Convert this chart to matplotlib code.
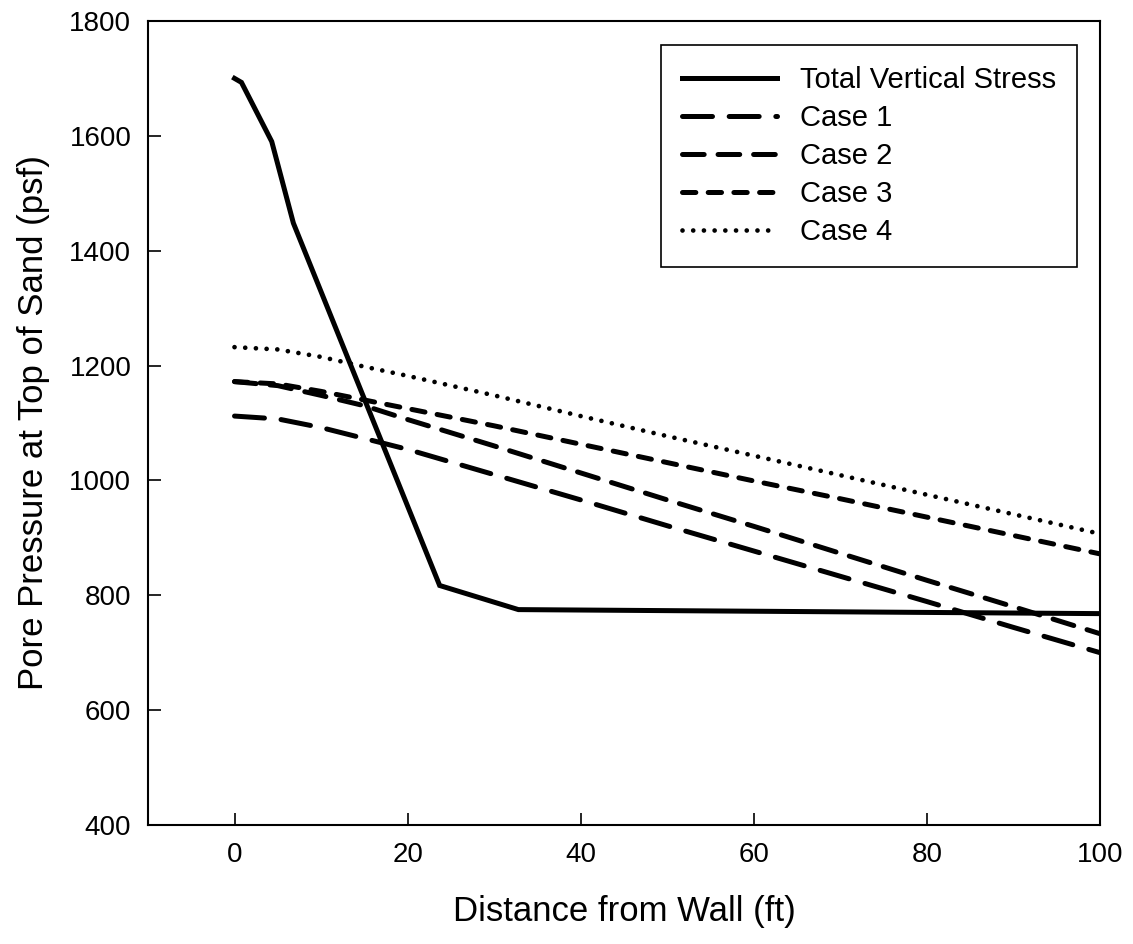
import matplotlib
matplotlib.use("Agg")
import matplotlib.pyplot as plt

plt.rcParams['font.family'] = ['Liberation Sans', 'DejaVu Sans']
plt.rcParams['lines.scale_dashes'] = False

# Data
x_total = [0, 0.8, 4.3, 6.8, 23.7, 32.8, 100]
total_stress = [1700, 1693, 1590, 1448, 817, 775, 768]

x_case = [0, 5, 10, 15, 20, 30, 40, 50, 60, 70, 80, 90, 100]
case1 = [1112, 1107, 1092, 1073, 1054, 1010, 966, 921, 877, 833, 789, 744, 700]
case2 = [1172, 1165, 1148, 1130, 1106, 1060, 1013, 966, 920, 873, 826, 780, 733]
case3 = [1172, 1168, 1155, 1140, 1125, 1095, 1063, 1031, 999, 968, 936, 904, 872]
case4 = [1232, 1228, 1215, 1198, 1182, 1148, 1112, 1077, 1043, 1009, 975, 941, 907]

labels = ["Total Vertical Stress", "Case 1", "Case 2", "Case 3", "Case 4"]
x_ticks = [0, 20, 40, 60, 80, 100]
y_ticks = [400, 600, 800, 1000, 1200, 1400, 1600, 1800]

fig = plt.figure(figsize=(11.33, 9.44), dpi=100)
ax = fig.add_axes([0.1306, 0.1261, 0.8403, 0.8517])

lw = 3.6
ax.plot(x_total, total_stress, color='black', lw=lw, solid_joinstyle='miter', label=labels[0])
ax.plot(x_case, case1, color='black', lw=lw, dashes=(21.6, 12), dash_capstyle='round', label=labels[1])
ax.plot(x_case, case2, color='black', lw=lw, dashes=(15.6, 10), dash_capstyle='round', label=labels[2])
ax.plot(x_case, case3, color='black', lw=lw, dashes=(9.6, 8.9), dash_capstyle='round', label=labels[3])
ax.plot(x_case, case4, color='black', lw=3.4, dashes=(0.01, 7.7), dash_capstyle='round', label=labels[4])

ax.set_xlim(-10, 100)
ax.set_ylim(400, 1800)
ax.set_xticks(x_ticks)
ax.set_yticks(y_ticks)
ax.tick_params(direction='in', length=9, width=1.2, labelsize=20, pad=12)
for s in ax.spines.values():
    s.set_linewidth(1.5)

ax.set_xlabel("Distance from Wall (ft)", fontsize=25, labelpad=20)
ax.set_ylabel("Pore Pressure at Top of Sand (psf)", fontsize=25, labelpad=14)

leg = ax.legend(loc='upper right', bbox_to_anchor=(0.976, 0.970), fontsize=21,
                frameon=True, fancybox=False, edgecolor='black', framealpha=1,
                handlelength=3.26, handletextpad=0.8, labelspacing=0.34,
                borderpad=0.72, borderaxespad=0)
leg.get_frame().set_linewidth(1.2)

fig.savefig("out.png", dpi=100)
